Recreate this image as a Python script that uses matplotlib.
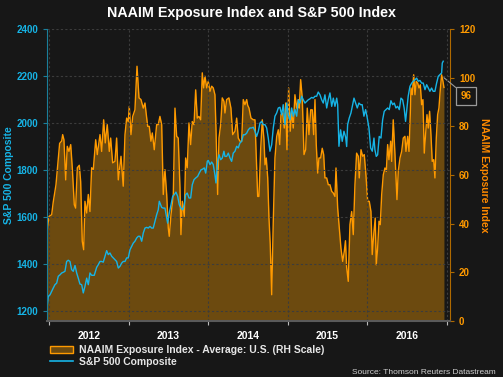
import matplotlib
matplotlib.use("Agg")
import matplotlib.pyplot as plt
from matplotlib.patches import Patch
from matplotlib.lines import Line2D
from matplotlib.ticker import FixedLocator, NullFormatter

# NAAIM exposure index (weekly, traced), decimal year / value
naaim_t = [2011.971, 2012.000, 2012.034, 2012.054, 2012.088, 2012.117, 2012.134, 2012.160, 2012.172, 2012.188,
           2012.210, 2012.230, 2012.251, 2012.273, 2012.293, 2012.318, 2012.335, 2012.356, 2012.381, 2012.398,
           2012.418, 2012.436, 2012.452, 2012.474, 2012.494, 2012.515, 2012.536, 2012.557, 2012.587, 2012.607,
           2012.641, 2012.662, 2012.687, 2012.707, 2012.732, 2012.758, 2012.775, 2012.800, 2012.829, 2012.850,
           2012.871, 2012.905, 2012.933, 2012.955, 2012.976, 2012.996, 2013.009, 2013.030, 2013.052, 2013.080,
           2013.106, 2013.131, 2013.156, 2013.185, 2013.206, 2013.240, 2013.260, 2013.281, 2013.298, 2013.323,
           2013.353, 2013.373, 2013.394, 2013.416, 2013.436, 2013.457, 2013.479, 2013.499, 2013.511, 2013.533,
           2013.562, 2013.583, 2013.604, 2013.624, 2013.646, 2013.658, 2013.675, 2013.700, 2013.717, 2013.737,
           2013.759, 2013.780, 2013.800, 2013.822, 2013.843, 2013.863, 2013.884, 2013.906, 2013.926, 2013.943,
           2013.960, 2013.981, 2014.001, 2014.023, 2014.044, 2014.064, 2014.085, 2014.098, 2014.119, 2014.136,
           2014.157, 2014.177, 2014.198, 2014.211, 2014.232, 2014.261, 2014.286, 2014.308, 2014.337, 2014.358,
           2014.378, 2014.399, 2014.421, 2014.441, 2014.462, 2014.484, 2014.496, 2014.513, 2014.538, 2014.567,
           2014.588, 2014.609, 2014.622, 2014.638, 2014.660, 2014.680, 2014.701, 2014.714, 2014.730, 2014.748,
           2014.764, 2014.780, 2014.798, 2014.818, 2014.839, 2014.861, 2014.881, 2014.899, 2014.915, 2014.936,
           2014.956, 2014.974, 2014.990, 2015.011, 2015.031, 2015.049, 2015.069, 2015.090, 2015.112, 2015.132,
           2015.144, 2015.162, 2015.182, 2015.204, 2015.225, 2015.245, 2015.266, 2015.288, 2015.308, 2015.325,
           2015.342, 2015.358, 2015.376, 2015.392, 2015.413, 2015.433, 2015.451, 2015.467, 2015.489, 2015.509,
           2015.530, 2015.552, 2015.572, 2015.593, 2015.606, 2015.627, 2015.647, 2015.668, 2015.690, 2015.710,
           2015.725, 2015.740, 2015.760, 2015.781, 2015.803, 2015.823, 2015.844, 2015.865, 2015.886, 2015.898,
           2015.920, 2015.941, 2015.961, 2015.982, 2016.004, 2016.024, 2016.045, 2016.061, 2016.083, 2016.099,
           2016.112, 2016.129, 2016.146, 2016.162, 2016.180, 2016.200, 2016.221, 2016.238, 2016.255, 2016.271,
           2016.293, 2016.305, 2016.325, 2016.347, 2016.372, 2016.388, 2016.410, 2016.431, 2016.451, 2016.472,
           2016.485, 2016.506, 2016.523, 2016.539, 2016.548, 2016.564, 2016.582, 2016.598, 2016.614, 2016.632,
           2016.648, 2016.665, 2016.682, 2016.698, 2016.715, 2016.732, 2016.749, 2016.765, 2016.782, 2016.799,
           2016.815, 2016.833, 2016.849, 2016.866, 2016.883, 2016.899, 2016.916, 2016.933, 2016.950, 2016.962]
naaim_v = [35.5, 43.0, 43.7, 49.0, 56.0, 67.0, 73.0, 74.0, 76.6, 74.5,
           58.0, 71.8, 69.7, 72.5, 63.0, 47.8, 46.4, 63.0, 64.0, 57.4,
           32.8, 29.3, 49.2, 44.4, 52.0, 45.0, 63.0, 62.2, 74.5, 68.4,
           76.6, 69.7, 82.7, 73.2, 80.7, 69.7, 75.2, 65.0, 65.6, 75.2,
           58.0, 67.7, 55.4, 76.6, 83.4, 82.0, 88.2, 76.6, 84.1, 86.8,
           104.7, 91.7, 91.0, 87.5, 89.6, 80.0, 80.0, 73.9, 77.3, 70.4,
           80.7, 80.7, 84.1, 80.7, 52.0, 62.2, 52.0, 38.2, 34.8, 43.7,
           52.0, 87.5, 75.9, 75.2, 54.7, 35.5, 49.2, 43.0, 67.0, 63.0,
           81.4, 72.5, 82.0, 80.7, 95.0, 83.4, 84.1, 82.7, 102.0, 95.8,
           100.6, 95.8, 98.5, 94.4, 96.5, 95.8, 93.0, 79.3, 52.0, 75.2,
           80.7, 91.7, 90.3, 85.5, 91.0, 91.7, 87.5, 76.6, 78.0, 83.4,
           75.2, 73.9, 73.9, 91.0, 88.9, 91.0, 88.7, 87.5, 83.4, 82.7,
           82.7, 63.0, 51.2, 51.2, 71.0, 82.7, 74.5, 64.2, 67.0, 58.8,
           42.3, 31.4, 10.8, 41.0, 67.0, 75.9, 78.6, 72.5, 84.8, 85.5,
           79.3, 89.6, 70.4, 95.8, 78.0, 86.2, 79.3, 93.0, 87.5, 91.0,
           87.5, 99.2, 91.7, 68.4, 70.4, 87.5, 76.6, 86.8, 86.8, 76.6,
           91.0, 72.5, 60.8, 67.0, 67.0, 71.0, 68.4, 58.8, 58.8, 56.0,
           56.0, 53.3, 52.6, 51.2, 62.9, 46.4, 38.2, 30.0, 24.5, 28.6,
           33.0, 22.0, 16.3, 39.6, 45.0, 35.5, 56.0, 69.0, 67.7, 58.8,
           70.4, 67.7, 68.4, 60.1, 49.2, 49.2, 45.0, 27.3, 36.9, 42.3,
           23.1, 30.0, 41.0, 39.6, 52.0, 60.1, 62.9, 61.5, 72.5, 66.3,
           73.9, 65.6, 82.7, 68.4, 49.9, 61.5, 67.0, 69.7, 75.2, 75.9,
           69.7, 75.9, 69.7, 84.8, 95.8, 93.0, 101.2, 93.0, 98.5, 97.8,
           95.8, 97.1, 88.9, 91.0, 69.0, 76.6, 84.8, 79.3, 86.2, 76.6,
           65.6, 66.3, 58.8, 75.2, 84.8, 87.5, 95.0, 101.2, 98.5, 96.0]

# S&P 500 composite (weekly, traced)
spx_t = [2011.971, 2011.991, 2012.013, 2012.034, 2012.054, 2012.075, 2012.097, 2012.117, 2012.138, 2012.160,
         2012.180, 2012.201, 2012.222, 2012.242, 2012.264, 2012.285, 2012.305, 2012.327, 2012.348, 2012.368,
         2012.389, 2012.411, 2012.431, 2012.452, 2012.474, 2012.494, 2012.515, 2012.536, 2012.569, 2012.599,
         2012.619, 2012.641, 2012.662, 2012.682, 2012.704, 2012.725, 2012.745, 2012.766, 2012.788, 2012.808,
         2012.829, 2012.850, 2012.871, 2012.892, 2012.913, 2012.933, 2012.955, 2012.976, 2012.996, 2013.018,
         2013.039, 2013.059, 2013.080, 2013.102, 2013.122, 2013.143, 2013.165, 2013.185, 2013.206, 2013.227,
         2013.247, 2013.269, 2013.290, 2013.310, 2013.332, 2013.353, 2013.373, 2013.386, 2013.416, 2013.436,
         2013.457, 2013.479, 2013.491, 2013.511, 2013.533, 2013.554, 2013.574, 2013.595, 2013.617, 2013.637,
         2013.658, 2013.680, 2013.700, 2013.717, 2013.737, 2013.759, 2013.780, 2013.800, 2013.822, 2013.843,
         2013.868, 2013.888, 2013.910, 2013.931, 2013.951, 2013.969, 2013.989, 2014.001, 2014.023, 2014.044,
         2014.064, 2014.085, 2014.098, 2014.119, 2014.136, 2014.157, 2014.177, 2014.198, 2014.211, 2014.232,
         2014.253, 2014.274, 2014.295, 2014.315, 2014.337, 2014.358, 2014.378, 2014.399, 2014.421, 2014.441,
         2014.462, 2014.484, 2014.504, 2014.525, 2014.546, 2014.567, 2014.588, 2014.609, 2014.630, 2014.651,
         2014.672, 2014.692, 2014.714, 2014.735, 2014.755, 2014.776, 2014.798, 2014.818, 2014.839, 2014.861,
         2014.881, 2014.902, 2014.923, 2014.943, 2014.965, 2014.986, 2015.006, 2015.028, 2015.049, 2015.069,
         2015.090, 2015.112, 2015.132, 2015.153, 2015.175, 2015.195, 2015.216, 2015.237, 2015.258, 2015.279,
         2015.300, 2015.320, 2015.342, 2015.363, 2015.383, 2015.405, 2015.426, 2015.446, 2015.467, 2015.489,
         2015.509, 2015.530, 2015.552, 2015.572, 2015.593, 2015.615, 2015.627, 2015.643, 2015.664, 2015.684,
         2015.706, 2015.727, 2015.740, 2015.752, 2015.772, 2015.794, 2015.815, 2015.832, 2015.853, 2015.873,
         2015.894, 2015.915, 2015.935, 2015.957, 2015.978, 2015.999, 2016.020, 2016.041, 2016.062, 2016.083,
         2016.095, 2016.112, 2016.129, 2016.149, 2016.171, 2016.192, 2016.212, 2016.234, 2016.255, 2016.275,
         2016.296, 2016.318, 2016.338, 2016.359, 2016.380, 2016.401, 2016.422, 2016.443, 2016.462, 2016.480,
         2016.497, 2016.513, 2016.535, 2016.557, 2016.577, 2016.598, 2016.619, 2016.639, 2016.661, 2016.682,
         2016.702, 2016.724, 2016.745, 2016.765, 2016.786, 2016.807, 2016.827, 2016.849, 2016.870, 2016.891,
         2016.912, 2016.933, 2016.941, 2016.953]
spx_v = [1199, 1262, 1269, 1284, 1298, 1312, 1319, 1348, 1354, 1362,
         1365, 1369, 1411, 1416, 1411, 1376, 1369, 1394, 1362, 1340,
         1315, 1312, 1277, 1305, 1340, 1312, 1362, 1352, 1352, 1386,
         1397, 1411, 1411, 1408, 1433, 1457, 1440, 1447, 1433, 1426,
         1418, 1411, 1383, 1390, 1404, 1411, 1411, 1426, 1426, 1461,
         1475, 1489, 1497, 1511, 1518, 1518, 1497, 1532, 1553, 1556,
         1553, 1560, 1553, 1553, 1582, 1610, 1631, 1667, 1641, 1638,
         1638, 1596, 1574, 1617, 1652, 1688, 1695, 1706, 1688, 1652,
         1638, 1631, 1652, 1695, 1702, 1681, 1681, 1737, 1759, 1766,
         1773, 1787, 1801, 1804, 1809, 1787, 1837, 1841, 1823, 1834,
         1823, 1780, 1745, 1837, 1865, 1844, 1851, 1880, 1858, 1858,
         1872, 1851, 1837, 1872, 1880, 1901, 1894, 1915, 1922, 1950,
         1950, 1957, 1971, 1979, 1979, 1982, 1965, 1943, 1965, 2000,
         2007, 1993, 1993, 1979, 1936, 1880, 1908, 1979, 2029, 2043,
         2064, 2067, 2035, 2078, 1993, 2085, 2035, 2014, 2064, 2029,
         2057, 2029, 2099, 2085, 2114, 2099, 2085, 2092, 2099, 2103,
         2109, 2106, 2114, 2114, 2132, 2120, 2099, 2085, 2120, 2064,
         2099, 2128, 2071, 2106, 2071, 2106, 2078, 1901, 1971, 1922,
         1965, 1940, 1900, 1993, 2021, 2043, 2078, 2106, 2085, 2064,
         2085, 2078, 2078, 2029, 2057, 2021, 1979, 1894, 1880, 1936,
         1886, 1858, 1865, 1943, 1936, 2014, 2050, 2057, 2064, 2057,
         2095, 2078, 2085, 2064, 2071, 2057, 2106, 2099, 2064, 2007,
         2064, 2114, 2156, 2170, 2178, 2184, 2191, 2178, 2181, 2170,
         2170, 2142, 2163, 2149, 2135, 2149, 2135, 2135, 2170, 2199,
         2206, 2213, 2255, 2263]

years = [2012, 2013, 2014, 2015, 2016]
year_labels = ["2012", "2013", "2014", "2015", "2016"]
last_naaim = 96

BG = "#171717"
CYAN = "#16b4e6"
ORANGE = "#ff9a00"
FILL = "#6c4a0f"
GRID = "#3c3c3c"

plt.rcParams["font.family"] = ["Liberation Sans", "DejaVu Sans"]

fig = plt.figure(figsize=(5.03, 3.77), dpi=100, facecolor=BG)
ax = fig.add_axes([0.0934, 0.1485, 0.8012, 0.7745])
ax2 = ax.twinx()
ax.set_zorder(ax2.get_zorder() + 1)
ax.patch.set_visible(False)
ax2.set_facecolor(BG)

# NAAIM area on the right scale
ax2.fill_between(naaim_t, 0, naaim_v, color=FILL, linewidth=0)
ax2.plot(naaim_t, naaim_v, color=ORANGE, lw=1.0)
ax2.set_ylim(0, 120)
ax2.set_yticks(range(0, 121, 20))

# S&P on the left scale
ax.plot(spx_t, spx_v, color=CYAN, lw=1.0)
ax.set_ylim(1157.5, 2400)
ax.set_yticks(range(1200, 2401, 200))
ax.set_xlim(2011.975, 2017.038)

# year ticks at boundaries, labels mid-year
ax.xaxis.set_major_locator(FixedLocator([y for y in years] + [2017]))
ax.xaxis.set_major_formatter(NullFormatter())
ax.xaxis.set_minor_locator(FixedLocator([y + 0.5 for y in years]))
ax.set_xticklabels(year_labels, minor=True)
ax.tick_params(axis="x", which="minor", length=0, pad=7, labelsize=7.5, labelcolor="white")
ax.tick_params(axis="x", which="major", length=3, color="#bbbbbb", direction="out")
for lab in ax.get_xticklabels(minor=True):
    lab.set_fontweight("bold")

ax.grid(True, axis="both", which="major", color=GRID, ls=(0, (2, 2)), lw=0.8)
ax.set_axisbelow(True)

ax.tick_params(axis="y", colors=CYAN, labelsize=7, length=3, direction="out")
ax2.tick_params(axis="y", colors=ORANGE, labelsize=7, length=3, direction="out")
ax2.tick_params(axis="y", color="#b06a00")
ax.tick_params(axis="y", color="#1a7f9a")
for lab in ax.get_yticklabels() + ax2.get_yticklabels():
    lab.set_fontweight("bold")

for a in (ax, ax2):
    for s in a.spines.values():
        s.set_visible(False)
ax.spines["left"].set_visible(True)
ax.spines["left"].set_color("#1a7f9a")
ax2.spines["right"].set_visible(True)
ax2.spines["right"].set_color("#b06a00")
ax.spines["bottom"].set_visible(True)
ax.spines["bottom"].set_color("#5a5a5a")
ax.spines["bottom"].set_linewidth(1.5)

ax.set_ylabel("S&P 500 Composite", color=CYAN, fontsize=7.5, fontweight="bold", va="center")
ax.yaxis.set_label_coords(-0.094, 0.5)
ax2.set_ylabel("NAAIM Exposure Index", color="#ff8a00", fontsize=7.5, fontweight="bold",
               rotation=-90, va="center")
ax2.yaxis.set_label_coords(1.084, 0.5)

# last value callout
ax2.annotate(str(last_naaim), xy=(naaim_t[-1], naaim_v[-1] + 4), xycoords="data",
             xytext=(466 / 503, 1 - 96 / 377), textcoords="figure fraction",
             ha="center", va="center", color=ORANGE, fontsize=7, fontweight="bold",
             bbox=dict(boxstyle="square,pad=0.45", fc=BG, ec="#9a9a9a", lw=0.9),
             arrowprops=dict(arrowstyle="-", color="#9a9a9a", lw=0.8, shrinkA=0, shrinkB=0),
             annotation_clip=False)

fig.text(0.5, 1 - 13 / 377, "NAAIM Exposure Index and S&P 500 Index", ha="center", va="center",
         color="white", fontsize=10.3, fontweight="bold")

handles = [Patch(facecolor=FILL, edgecolor=ORANGE, lw=1.0),
           Line2D([0], [0], color=CYAN, lw=1.2)]
labels = ["NAAIM Exposure Index - Average: U.S. (RH Scale)", "S&P 500 Composite"]
leg = fig.legend(handles, labels, loc="upper left", bbox_to_anchor=(0.085, 1 - 338 / 377),
                 frameon=False, fontsize=7.5, labelspacing=0.15, handlelength=2.2,
                 handletextpad=0.55, borderpad=0.2)
for t in leg.get_texts():
    t.set_color("#e6e6e6")
    t.set_fontweight("bold")

fig.text(496 / 503, 1 - 372 / 377, "Source: Thomson Reuters Datastream", ha="right", va="center",
         color="#cfcfcf", fontsize=6)

fig.savefig("out.png", dpi=100, facecolor=BG)
